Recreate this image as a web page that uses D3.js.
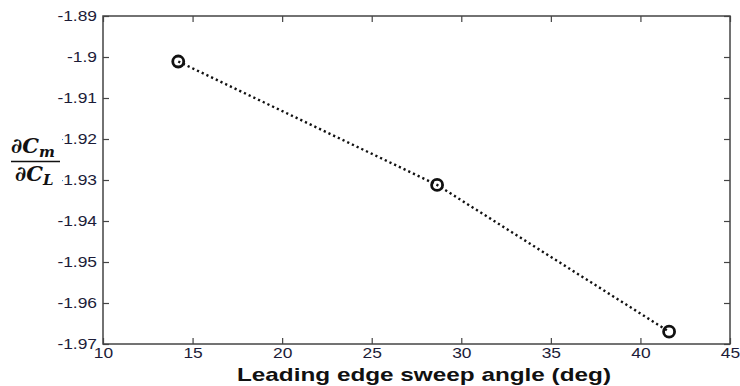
<!DOCTYPE html>
<html>
<head>
<meta charset="utf-8">
<script src="https://cdn.jsdelivr.net/npm/d3@7"></script>
<style>
  body { margin: 0; background: #fff; }
  svg { display: block; }
</style>
</head>
<body>
<div id="chart"></div>
<script>
// data
const sweepAngle = [14.2, 28.65, 41.6];
const dCmdCL = [-1.9011, -1.9312, -1.9670];
const xTicks = [10, 15, 20, 25, 30, 35, 40, 45];
const yTicks = [-1.89, -1.9, -1.91, -1.92, -1.93, -1.94, -1.95, -1.96, -1.97];

const width = 740, height = 386;
const margin = { top: 16, right: 10, bottom: 42, left: 103 };
const innerW = width - margin.left - margin.right;
const innerH = height - margin.top - margin.bottom;

const svg = d3.select('#chart').append('svg')
    .attr('width', width)
    .attr('height', height);

const x = d3.scaleLinear().domain([10, 45]).range([margin.left, margin.left + innerW]);
const y = d3.scaleLinear().domain([-1.97, -1.89]).range([margin.top + innerH, margin.top]);

const axisColor = '#444';
const textColor = '#1c1c38';
const tickFont = '"Liberation Sans", Arial, sans-serif';

// frame
svg.append('rect')
    .attr('x', margin.left).attr('y', margin.top)
    .attr('width', innerW).attr('height', innerH)
    .attr('fill', 'none').attr('stroke', axisColor).attr('stroke-width', 1.5);

// inward ticks on all four sides; the original figure is stretched sideways,
// so the tick text gets a small horizontal scale
const tl = 6;
const styleAxis = g => {
    g.select('.domain').remove();
    g.selectAll('.tick line').attr('stroke', axisColor).attr('stroke-width', 1.2);
    g.selectAll('.tick text')
        .attr('fill', textColor)
        .attr('transform', 'scale(1.2,1)')
        .style('font-family', tickFont)
        .style('font-size', '14.5px');
};

// plain hyphen minus, like the original
const yFmt = d => String(+d.toFixed(2));

svg.append('g')
    .attr('transform', `translate(0,${margin.top + innerH})`)
    .call(d3.axisBottom(x).tickValues(xTicks).tickSize(-tl).tickPadding(4).tickFormat(d => String(d)))
    .call(styleAxis);

svg.append('g')
    .attr('transform', `translate(0,${margin.top})`)
    .call(d3.axisTop(x).tickValues(xTicks).tickSize(-tl).tickFormat(''))
    .call(styleAxis);

svg.append('g')
    .attr('transform', `translate(${margin.left},0)`)
    .call(d3.axisLeft(y).tickValues(yTicks).tickSize(-tl).tickPadding(5).tickFormat(yFmt))
    .call(styleAxis);

svg.append('g')
    .attr('transform', `translate(${margin.left + innerW},0)`)
    .call(d3.axisRight(y).tickValues(yTicks).tickSize(-tl).tickFormat(''))
    .call(styleAxis);

// dotted line
const pts = sweepAngle.map((a, i) => [a, dCmdCL[i]]);
svg.append('path')
    .datum(pts)
    .attr('fill', 'none')
    .attr('stroke', '#111')
    .attr('stroke-width', 2.4)
    .attr('stroke-dasharray', '2.2,3')
    .attr('d', d3.line().x(d => x(d[0])).y(d => y(d[1])));

// circle markers
svg.append('g').selectAll('circle')
    .data(pts)
    .join('circle')
    .attr('cx', d => x(d[0]))
    .attr('cy', d => y(d[1]))
    .attr('r', 5.5)
    .attr('fill', 'none')
    .attr('stroke', '#111')
    .attr('stroke-width', 2.8);

// x label
svg.append('text')
    .attr('x', 424).attr('y', 381)
    .attr('text-anchor', 'middle')
    .attr('fill', '#111')
    .attr('textLength', 374)
    .attr('lengthAdjust', 'spacingAndGlyphs')
    .style('font-family', tickFont)
    .style('font-weight', 'bold')
    .style('font-size', '19px')
    .text('Leading edge sweep angle (deg)');

// y label: fraction dCm/dCL on a white patch
const yl = svg.append('g');
yl.append('rect')
    .attr('x', 8).attr('y', 133).attr('width', 54).attr('height', 54)
    .attr('fill', '#fff');
const fracFont = '"DejaVu Serif", serif';
const num = yl.append('text')
    .attr('x', 11).attr('y', 153)
    .attr('fill', '#111')
    .style('font-family', fracFont)
    .style('font-style', 'italic')
    .style('font-weight', 'bold')
    .style('font-size', '21px');
num.append('tspan').text('\u2202C');
num.append('tspan').attr('dy', 4).style('font-size', '15px').text('m');
yl.append('line')
    .attr('x1', 11).attr('x2', 60).attr('y1', 161.5).attr('y2', 161.5)
    .attr('stroke', '#111').attr('stroke-width', 1.5);
const den = yl.append('text')
    .attr('x', 15).attr('y', 181)
    .attr('fill', '#111')
    .style('font-family', fracFont)
    .style('font-style', 'italic')
    .style('font-weight', 'bold')
    .style('font-size', '21px');
den.append('tspan').text('\u2202C');
den.append('tspan').attr('dy', 4).style('font-size', '15px').text('L');
</script>
</body>
</html>
